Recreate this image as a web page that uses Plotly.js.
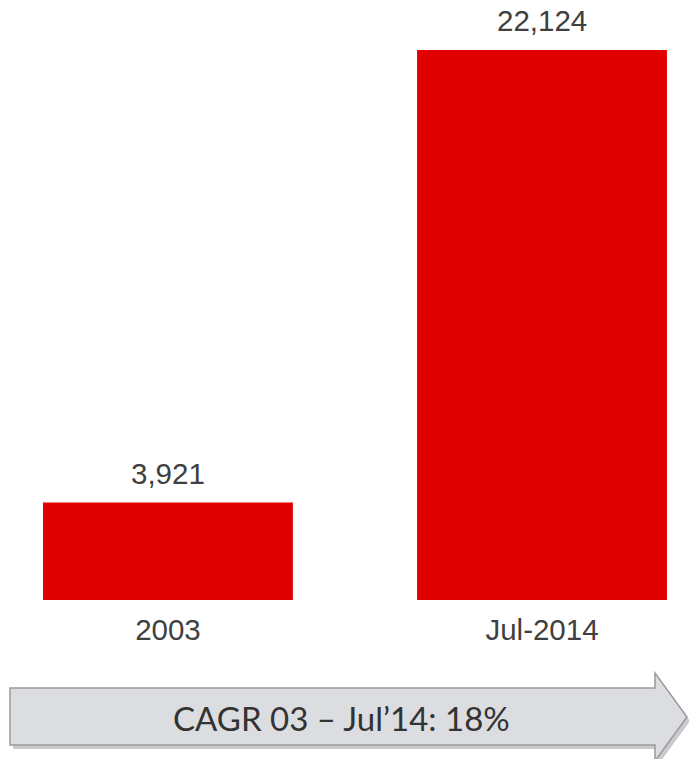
<!DOCTYPE html>
<html><head><meta charset="utf-8">
<script src="https://cdn.plot.ly/plotly-3.0.1.min.js"></script>
<style>html,body{margin:0;padding:0;background:#fff}#chart{width:689px;height:759px}</style>
</head><body><div id="chart"></div>
<script>
var categories = ["2003", "Jul-2014"];
var values = [3921, 22124];
var valueLabels = ["3,921", "22,124"];
var cagrText = "CAGR 03 \u2013 Jul\u201914: 18%";

var W = 689, H = 759, plotBottom = 600;
function px(x){ return x / W; }
function py(y){ return (plotBottom - y) / plotBottom; }
function pt(x,y){ return px(x).toFixed(5) + "," + py(y).toFixed(5); }

var arrow = [[10,688],[655,688],[655,673],[687,717],[655,761],[655,745],[10,745]];
function pathOf(pts, dx, dy){
  return "M " + pts.map(function(p){ return pt(p[0]+dx, p[1]+dy); }).join(" L ") + " Z";
}

var FONT = "Liberation Sans";

var trace = {
  type: "bar", x: categories, y: values,
  marker: {color: "#e00000"}, width: 0.668,
  hoverinfo: "skip"
};

var annotations = categories.map(function(c, i){
  return {x: i, y: values[i], xref: "x", yref: "y", text: valueLabels[i],
    showarrow: false, yanchor: "bottom", yshift: 11,
    font: {family: FONT, size: 29.5, color: "#404040"}};
});
annotations.push({x: px(341), y: py(718), xref: "paper", yref: "paper", text: cagrText,
  showarrow: false, xanchor: "center", yanchor: "middle",
  font: {family: "Lato", size: 33, color: "#333333"}});

var layout = {
  width: W, height: H,
  margin: {l: 0, r: 0, t: 0, b: H - plotBottom, pad: 0},
  paper_bgcolor: "#ffffff", plot_bgcolor: "#ffffff",
  showlegend: false,
  xaxis: {type: "category", range: [-0.449, 1.393], showgrid: false, zeroline: false,
    showline: false, ticks: "", ticklabelstandoff: 9,
    tickfont: {family: FONT, size: 29.5, color: "#404040"}},
  yaxis: {range: [0, 24135], visible: false, showgrid: false, zeroline: false},
  annotations: annotations,
  shapes: [
    {type: "path", xref: "paper", yref: "paper", path: pathOf(arrow, 3, 4),
      fillcolor: "#c9cacd", line: {width: 0}, layer: "below"},
    {type: "path", xref: "paper", yref: "paper", path: pathOf(arrow, 0, 0),
      fillcolor: "#dcdde1", line: {color: "#9a9a9a", width: 1.5}, layer: "below"}
  ]
};
Plotly.newPlot("chart", [trace], layout, {displayModeBar: false, staticPlot: true});
</script></body></html>
